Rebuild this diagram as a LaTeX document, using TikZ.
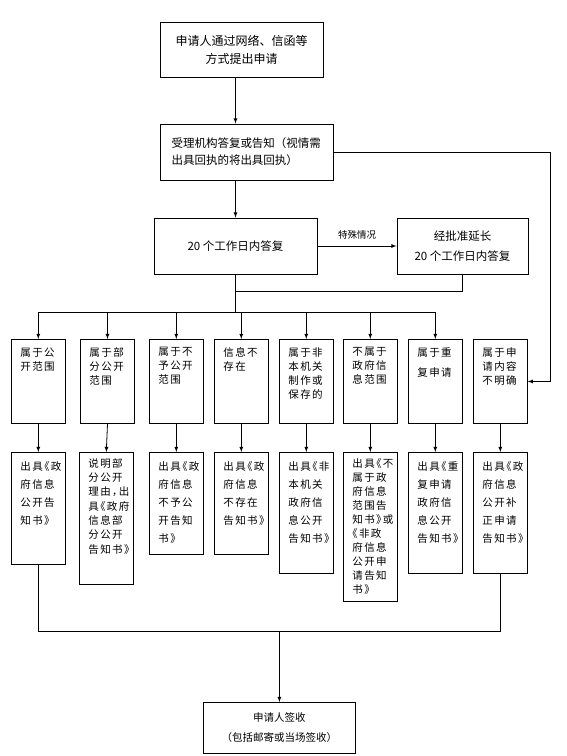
\documentclass[tikz,border=0pt]{standalone}
\usepackage{fontspec}
\setmainfont{Noto Sans CJK SC}
\newfontfamily\cellfont[LetterSpace=14,RawFeature=+halt]{Noto Sans CJK SC}
\usetikzlibrary{arrows.meta}
\tikzset{>=latex}
\tikzset{
  box/.style={draw, line width=0.9pt, inner sep=0pt, align=center},
  cell/.style={draw, line width=0.9pt, inner sep=0pt, anchor=north},
  flow/.style={line width=0.8pt}
}
% narrow boxes: height, line skip, top gap, text
\newcommand{\cellbox}[4]{\parbox[t][#1pt][t]{54pt}{\cellfont\fontsize{10.5}{#2}\selectfont
  \leftskip=9pt \rightskip=0pt plus 1fil \parindent=0pt\vspace*{#3pt}#4}}

\begin{document}
\begin{tikzpicture}[x=1pt, y=-1pt]
\useasboundingbox (0,0) rectangle (566,756);

\node[box, minimum width=163pt, minimum height=55pt, font=\fontsize{12}{18}\selectfont] (apply) at (241.5,49.5) {申请人通过网络、信函等\\方式提出申请};
\node[box, minimum width=173pt, minimum height=56pt, text width=150pt, align=left, font=\fontsize{11.5}{17}\selectfont] (reply) at (246.5,152) {受理机构答复或告知（视情需\\出具回执的将出具回执）};
\node[box, minimum width=163pt, minimum height=56pt, font=\fontsize{11.5}{20}\selectfont] (due) at (235.5,246) {20 个工作日内答复};
\node[box, minimum width=131pt, minimum height=56pt, font=\fontsize{11.5}{20}\selectfont] (extend) at (462.5,246) {经批准延长\\20 个工作日内答复};
\node[box, minimum width=152pt, minimum height=51pt, font=\fontsize{10.5}{20}\selectfont] (sign) at (279.4,728) {申请人签收\\（包括邮寄或当场签收）};

\coordinate (merge) at (0,291);
\coordinate (bus) at (0,312);
\coordinate (side) at (550,0);
\coordinate (join) at (0,631.7);

\foreach \n/\x/\s/\t in {a/38.3/14/{属于公\\开范围}, b/107.5/14/{属于部\\分公开\\范围},
    c/176.3/14/{属于不\\予公开\\范围}, d/241.3/14/{信息不\\存在},
    e/306.3/14/{属于非\\本机关\\制作或\\保存的}, f/370.3/14/{不属于\\政府信\\息范围},
    g/435.3/20/{属于重\\复申请}, h/500.3/14/{属于申\\请内容\\不明确}}
  \node[cell] (scope\n) at (\x,339) {\cellbox{84}{\s}{8}{\t}};

\foreach \n/\x/\h/\s/\g/\t in {a/38.3/112/18/9.5/{出具《政\\府信息\\公开告\\知书》},
    b/106.3/132/14.3/6/{说明部\\分公开\\理由，出\\具《政府\\信息部\\分公开\\告知书》},
    c/176.3/102/18/9.5/{出具《政\\府信息\\不予公\\开告知\\书》},
    d/241.3/102/18/9.5/{出具《政\\府信息\\不存在\\告知书》},
    e/306.3/121/18/9.5/{出具《非\\本机关\\政府信\\息公开\\告知书》},
    f/370.3/149/14/6/{出具《不\\属于政\\府信息\\范围告\\知书》或\\《非政\\府信息\\公开申\\请告知\\书》},
    g/435.3/121/18/9.5/{出具《重\\复申请\\政府信\\息公开\\告知书》},
    h/500.3/121/18/9.5/{出具《政\\府信息\\公开补\\正申请\\告知书》}}
  \node[cell] (notice\n) at (\x,452) {\cellbox{\h}{\s}{\g}{\t}};

\draw[flow,->] (apply.south -| due) -- (reply.north -| due);
\draw[flow,->] (reply.south -| due) -- (due.north);
\draw[flow,->] (due.east) -- node[above=3pt, font=\fontsize{9.5}{11}\selectfont] {特殊情况} (extend.west);
\draw[flow,->] (reply.east) -| (side |- scopeh.east) -- (scopeh.east);

\draw[flow] (due.south) -- (due.south |- merge) -| (extend.south);
\draw[flow] (due.south |- merge) -- (due.south |- bus);
\draw[flow] (scopea.north |- bus) -- (scopeg.north |- bus);

\foreach \n in {a,...,g}
  \draw[flow,->] (scope\n.north |- bus) -- (scope\n.north);
\foreach \n in {a,...,h}
  \draw[flow,->] (scope\n.south) -- (notice\n.north);

\draw[flow] (noticea.south) |- (noticeh.south |- join) -- (noticeh.south);
\draw[flow,->] (sign.north |- join) -- (sign.north);
%\draw (side) -- (join);

\end{tikzpicture}
\end{document}
